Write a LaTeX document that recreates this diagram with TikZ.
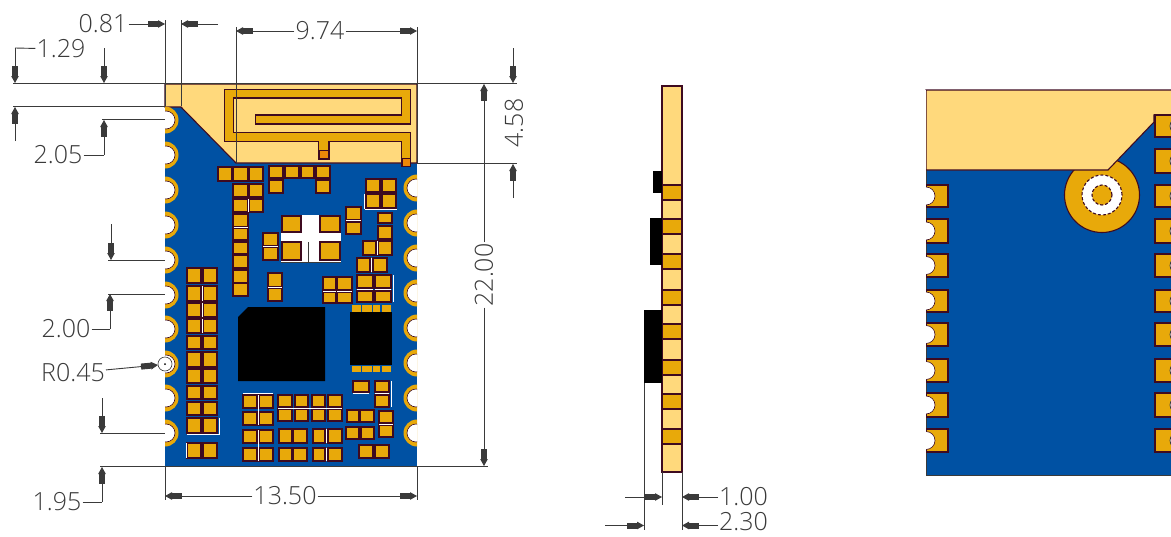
\documentclass[tikz,border=0pt]{standalone}
\usepackage{fontspec}
\setmainfont{Open Sans Light}
\usetikzlibrary{arrows.meta}
\definecolor{pcbblue}{HTML}{0051A3}
\definecolor{padorange}{HTML}{E8A90A}
\definecolor{cleargold}{HTML}{FFD97C}
\definecolor{padedge}{HTML}{3E0A20}
\definecolor{dimgray}{HTML}{3A3A3A}
\tikzset{
  padbox/.style={fill=padorange,draw=padedge,line width=2.5pt},
  boardedge/.style={draw=padedge,line width=1.1pt},
  silk/.style={draw=white,line width=1pt},
  dimline/.style={draw=dimgray,line width=.9pt},
  dimarrow/.style={dimline,-{Rectangle[length=10pt,width=6pt]Triangle[length=7pt,width=7.5pt]}},
  dimtext/.style={text=dimgray,font=\fontsize{25}{25}\selectfont,inner sep=1pt}
}
\begin{document}
\begin{tikzpicture}[x=1pt,y=-1pt]
\useasboundingbox (0,0) rectangle (1171,536);

% Top view board
\def\topboard{(165,84) rectangle (417,466)}
\fill[pcbblue] \topboard;
\draw[boardedge,fill=cleargold] (165,84) -- (417,84) -- (417,163) -- (236,163) -- (181,107) -- (165,107) -- cycle;
\begin{scope}
\clip \topboard;
\foreach \y in {120,155,190,225,260,295,329,364,398,433}{
  \fill[padorange] (165,\y) circle (13.5pt);
  \draw[fill=white,draw=padedge,line width=.6pt] (166,\y) circle (9pt);
}
\foreach \y in {188,223,258,293,328,363,398,433}{
  \fill[padorange] (417,\y) circle (13.5pt);
  \draw[fill=white,draw=padedge,line width=.6pt] (416,\y) circle (9pt);
}
\end{scope}

% Antenna
\draw[padbox,line width=1.4pt] (224.7,89.3) -- (410.7,89.3) -- (410.7,124) -- (255.3,124) -- (255.3,115) -- (401.7,115) -- (401.7,98) -- (233.3,98) -- (233.3,132.7) -- (410.7,132.7) -- (410.7,166) -- (401.7,166) -- (401.7,141.7) -- (329,141.7) -- (329,159) -- (318.3,159) -- (318.3,141.7) -- (224.7,141.7) -- cycle;
\draw[fill=padorange!80!red,draw=padedge,line width=.6pt] (319,150) rectangle (328,158);
\draw[fill=padorange!80!red,draw=padedge,line width=.6pt] (402,158) rectangle (410,166);

% Cross component
\fill[white] (281,215) rectangle (341,262);
\draw[dimgray,line width=.6pt] (281,262) -- (341,262) (308,242) -- (308,262);

% Pads, by corners
\foreach \xa/\ya/\xb/\yb in {218/167/232/181,233/167/248/181,249/167/263/181,233/184/248/197,249/184/263/197,233/199/248/212,249/199/263/212,
  233/214/248/227,233/228/248/240,233/242/248/254,233/255/248/268,233/270/248/283,233/283/248/296,
  269/166/283/178,285/166/299/178,301/166/314/178,316/166/330/178,269/180/283/193,316/180/330/193,
  366/179/380/192,382/179/396/192,366/194/380/208,382/194/396/208,378/213/392/223,378/226/392/239,
  363/241/376/255,378/241/392/255,357/258/370/272,373/258/387/272,357/275/373/288,375/275/391/288,357/291/373/302,375/291/391/302,
  263/233/278/246,263/247/278/260,346/207/361/220,346/222/361/234,268/273/282/287,268/288/282/301,
  282/216/301/232,320/216/340/232,282/242/301/260,320/242/340/260,
  323/277/336/290,337/277/352/290,323/292/336/303,337/292/352/303,
  353/381/369/392,375/381/389/392,375/395/389/407,347/410/359/422,360/410/374/422,346/427/359/439,361/427/374/439,
  379/411/393/423,379/425/393/437,359/445/373/458,375/445/389/458}{
  \draw[padbox] (\xa,\ya) rectangle (\xb,\yb);
}
\foreach \ya/\yb in {268/283,286/301,303/317,319/333,336/349,352/367,369/383,386/399,402/415,418/433,443/458}{
  \draw[padbox] (187,\ya) rectangle (201,\yb);
  \draw[padbox] (203,\ya) rectangle (217,\yb);
}
\foreach \ya/\yb in {395/408,412/425,430/443,448/461}{
  \draw[padbox] (243,\ya) rectangle (257,\yb);
  \draw[padbox] (259,\ya) rectangle (273,\yb);
}
\foreach \xa/\xb in {278/292,295/308,312/325,328/342}{
  \draw[padbox] (\xa,395) rectangle (\xb,407);
  \draw[padbox] (\xa,409) rectangle (\xb,421);
}
\foreach \xa/\xb in {279/292,293/307,313/325,328/342}{
  \draw[padbox] (\xa,429) rectangle (\xb,443);
  \draw[padbox] (\xa,448) rectangle (\xb,461);
}
% Silk marks
\draw[silk] (248,199) -- (248,212) (233.5,227.5) -- (247.5,227.5) (202,286) -- (202,301) (202,303) -- (202,317) (202,319) -- (202,333)
  (187,434.5) -- (219,434.5) -- (219,418) (186,443) -- (186,458) (258,395) -- (258,425) (243,393) -- (273,393) (258,430) -- (258,461)
  (323,291) -- (336,291) (337,291) -- (352,291) (357,289.5) -- (373,289.5) (375,289.5) -- (391,289.5) (393,275) -- (393,302)
  (371.5,258) -- (371.5,272) (377,241) -- (377,255) (365,209.5) -- (397,209.5) (364.5,194) -- (364.5,209)
  (263,246.6) -- (278,246.6) (346,220.6) -- (361,220.6) (268,287.5) -- (282,287.5)
  (353,393.5) -- (369,393.5) (375,393.5) -- (389,393.5) (391,381) -- (391,407) (379,424) -- (393,424)
  (278,408) -- (342,408) (326.5,429) -- (326.5,443) (326.5,448) -- (326.5,461);

% Main chips
\fill[black] (238,317) -- (248,307) -- (325,307) -- (325,381) -- (238,381) -- cycle;
\fill[black] (350,312) rectangle (392,365);
\foreach \xa/\xb in {352/361,362/372,373/380,382/391}{
  \fill[padorange] (\xa,305) rectangle (\xb,312);
  \fill[padorange] (\xa,366) rectangle (\xb,372);
}

% Side view
\draw[boardedge,fill=cleargold] (662,86) rectangle (682,472);
\foreach \y in {185,219,254,290,324,360,394,429}{
  \draw[boardedge,fill=padorange] (662,\y) rectangle (682,\y+15);
}
\fill[black] (653,171) rectangle (662,193);
\fill[black] (650,218) rectangle (662,265);
\fill[black] (644,310) rectangle (662,383);

% Bottom view
\begin{scope}
\clip (920,80) rectangle (1171,480);
\draw[dimgray,line width=1pt,fill=pcbblue] (926,90) rectangle (1180,475);
\draw[boardedge,fill=padorange] (1102,195) circle (37.5pt);
\draw[boardedge,fill=cleargold] (926,90) -- (1180,90) -- (1180,115) -- (1154,115) -- (1154,122) -- (1108,170) -- (926,170) -- cycle;
\draw[boardedge,densely dashed,fill=white] (1102,195) circle (20pt);
\draw[boardedge,densely dashed,fill=padorange] (1102,195) circle (10pt);
\foreach \ya/\yb in {185/207,219/243,254/277,290/312,323/346,359/382,393/417,429/452}{
  \draw[boardedge,line width=1.3pt,fill=padorange] (926,\ya) rectangle (948,\yb);
  \draw[boardedge,line width=.6pt,fill=white] (926,{(\ya+\yb)/2}) circle (9pt);
}
\foreach \ya/\yb in {115/137,149/173,185/207,219/243,254/277,290/312,323/346,359/382,393/417,429/452}{
  \draw[boardedge,line width=1.3pt,fill=padorange] (1155,\ya) rectangle (1185,\yb);
  \draw[dimgray,line width=.8pt,fill=white] (1178,{(\ya+\yb)/2}) circle (8pt);
}
\fill[white] (920,90) rectangle (925.5,475);
\end{scope}

% Extension lines
\draw[dimline] (13,83.5) -- (517,83.5);
\draw[dimline] (13,106.5) -- (165,106.5);
\draw[dimline] (417,163.5) -- (517,163.5);
\draw[dimline] (102,119.5) -- (165,119.5);
\draw[dimline] (108,260) -- (165,260);
\draw[dimline] (108,294) -- (165,294);
\draw[dimline] (100,433) -- (165,433);
\draw[dimline] (100,466.5) -- (488,466.5);
\draw[dimline] (165,20) -- (165,106) (181,20) -- (181,106);
\draw[dimline] (236,27) -- (236,163) (417,27) -- (417,163);
\draw[dimline] (165,466) -- (165,500) (417,466) -- (417,500);
\draw[dimline] (644,383) -- (644,530) (662,472) -- (662,505) (682,472) -- (682,530);

% Dimensions
\node[dimtext] (d081) at (103,24) {0.81};
\coordinate (d081a) at (165,24);
\coordinate (d081b) at (218,24);
\coordinate (d081c) at (181,24);
\draw[dimarrow] (d081) -- (d081a);
\draw[dimarrow] (d081b) -- (d081c);

\node[dimtext] (d129) at (61,49) {1.29};
\coordinate (d129a) at (15,48);
\coordinate (d129b) at (15,83);
\coordinate (d129c) at (104,48);
\coordinate (d129d) at (104,83);
\coordinate (d129e) at (15,141);
\coordinate (d129f) at (15,107);
\draw[dimline] (d129) -- (d129a);
\draw[dimarrow] (d129a) -- (d129b);
\draw[dimarrow] (d129c) -- (d129d);
\draw[dimarrow] (d129e) -- (d129f);

\node[dimtext] (d205) at (58,155) {2.05};
\coordinate (d205a) at (104,155);
\coordinate (d205b) at (104,120);
\coordinate (d205c) at (111,224);
\coordinate (d205d) at (111,260);
\draw[dimline] (d205) -- (d205a);
\draw[dimarrow] (d205a) -- (d205b);
\draw[dimarrow] (d205c) -- (d205d);

\node[dimtext] (d200) at (66,329) {2.00};
\coordinate (d200a) at (110,329);
\coordinate (d200b) at (110,294);
\coordinate (d200c) at (102,398);
\coordinate (d200d) at (102,433);
\draw[dimline] (d200) -- (d200a);
\draw[dimarrow] (d200a) -- (d200b);
\draw[dimarrow] (d200c) -- (d200d);

\node[dimtext] (r045) at (73,373) {R0.45};
\coordinate (r045a) at (158,365);
\draw[dimarrow] (r045) -- (r045a);
\draw[dimline,fill=white,line width=.6pt] (165,364) circle (7pt);
\fill[black] (165,364) circle (1pt);

\node[dimtext] (d195) at (57,502) {1.95};
\coordinate (d195a) at (102,502);
\coordinate (d195b) at (102,467);
\draw[dimline] (d195) -- (d195a);
\draw[dimarrow] (d195a) -- (d195b);

\node[dimtext] (d1350) at (285,496) {13.50};
\coordinate (d1350a) at (165,496);
\coordinate (d1350b) at (417,496);
\draw[dimarrow] (d1350) -- (d1350a);
\draw[dimarrow] (d1350) -- (d1350b);

\node[dimtext] (d974) at (320,31) {9.74};
\coordinate (d974a) at (236,31);
\coordinate (d974b) at (417,31);
\draw[dimarrow] (d974) -- (d974a);
\draw[dimarrow] (d974) -- (d974b);

\node[dimtext,rotate=90] (d2200) at (484,275) {22.00};
\coordinate (d2200a) at (484,84);
\coordinate (d2200b) at (484,466);
\draw[dimarrow] (d2200) -- (d2200a);
\draw[dimarrow] (d2200) -- (d2200b);

\node[dimtext,rotate=90] (d458) at (514,123) {4.58};
\coordinate (d458a) at (513,48);
\coordinate (d458b) at (513,83);
\coordinate (d458c) at (513,198);
\coordinate (d458d) at (513,164);
\draw[dimarrow] (d458a) -- (d458b);
\draw[dimarrow] (d458c) -- (d458d);

\node[dimtext,anchor=west] (d100) at (718,497) {1.00};
\coordinate (d100a) at (682,497);
\coordinate (d100b) at (625,497);
\coordinate (d100c) at (662,497);
\draw[dimarrow] (d100) -- (d100a);
\draw[dimarrow] (d100b) -- (d100c);

\node[dimtext,anchor=west] (d230) at (718,522) {2.30};
\coordinate (d230a) at (682,525.5);
\coordinate (d230b) at (605,525.5);
\coordinate (d230c) at (644,525.5);
\coordinate (d230d) at (718,525.5);
\draw[dimarrow] (d230d) -- (d230a);
\draw[dimarrow] (d230b) -- (d230c);
\end{tikzpicture}
\end{document}
